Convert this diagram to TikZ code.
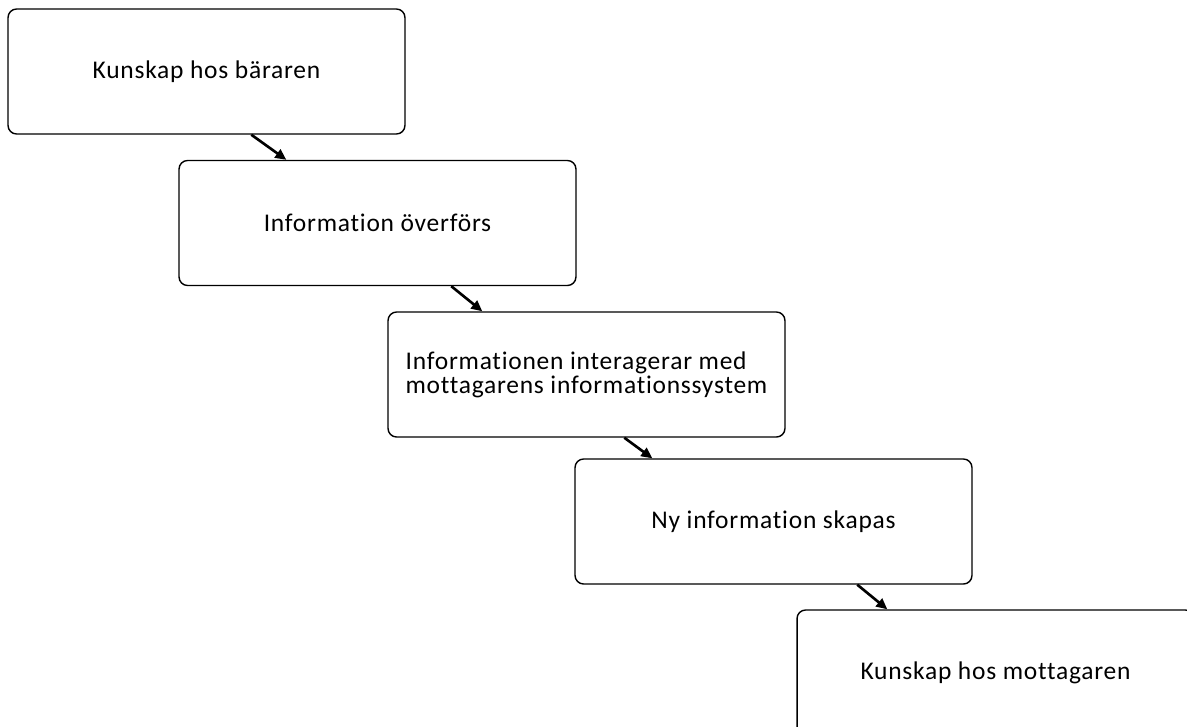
\documentclass[tikz,border=0pt]{standalone}
\usepackage{fontspec}
\setmainfont{Carlito}[Ligatures=NoCommon, LetterSpace=3]
\usepackage{tikz}
\usetikzlibrary{arrows.meta}

\begin{document}
\begin{tikzpicture}[x=0.02cm, y=-0.02cm, >={Triangle[length=0.22cm,width=0.2cm]},
    font=\fontsize{14.5}{13.5}\selectfont,
    stepbox/.style={draw, rounded corners=0.17cm, line width=0.8pt,
        minimum width=7.94cm, minimum height=2.5cm, inner sep=0pt},
    flow/.style={->, line width=1.5pt}]
    \useasboundingbox (0,0) rectangle (1187,727);
    \clip (0,0) rectangle (1187,727);
    % the five steps, each one further down and to the right
    \node[stepbox] (barare) at (206.5,71.5) {Kunskap hos bäraren};
    \node[stepbox] (overfor) at (377.5,223) {Information överförs};
    \node[stepbox, align=left] (interag) at (586.5,374.5) {Informationen interagerar med\\mottagarens informationssystem};
    \node[stepbox] (skapas) at (773.5,521.5) {Ny information skapas};
    \node[stepbox] (mottag) at (995.5,672.5) {Kunskap hos mottagaren};
    % short diagonal arrows between the steps
    \draw[flow] ([xshift=4.88cm]barare.south west) -- ([xshift=2.16cm]overfor.north west);
    \draw[flow] ([xshift=5.46cm]overfor.south west) -- ([xshift=1.9cm]interag.north west);
    \draw[flow] ([xshift=4.74cm]interag.south west) -- ([xshift=1.56cm]skapas.north west);
    \draw[flow] ([xshift=5.66cm]skapas.south west) -- ([xshift=1.82cm]mottag.north west);
\end{tikzpicture}
\end{document}
